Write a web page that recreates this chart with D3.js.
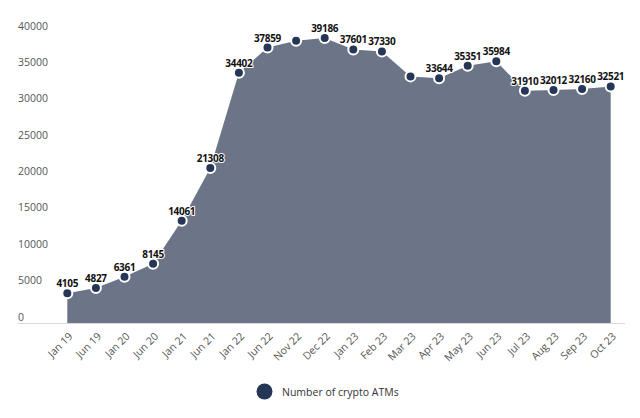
<!DOCTYPE html>
<html><head><meta charset="utf-8">
<script src="https://cdn.jsdelivr.net/npm/d3@7"></script>
<style>body{margin:0;background:#fff}svg{display:block}</style>
</head><body><svg id="c" width="640" height="418"></svg>
<script>
const categories = ["Jan 19","Jun 19","Jan 20","Jun 20","Jan 21","Jun 21","Jan 22","Jun 22","Nov 22","Dec 22","Jan 23","Feb 23","Mar 23","Apr 23","May 23","Jun 23","Jul 23","Aug 23","Sep 23","Oct 23"];
const values = [4105,4827,6361,8145,14061,21308,34402,37859,38800,39186,37601,37330,33900,33644,35351,35984,31910,32012,32160,32521];
const hiddenLabels = ["Nov 22","Mar 23"];
const yTicks = [0,5000,10000,15000,20000,25000,30000,35000,40000];
const seriesName = "Number of crypto ATMs";

const svg = d3.select("#c");
const font = "'Open Sans', sans-serif";
const x = d3.scalePoint().domain(categories).range([67.3, 610.7]);
const y = d3.scaleLinear().domain([0,40000]).range([323, 32]);
const data = categories.map((c,i)=>({c, v: values[i]}));

// area
svg.append("path").datum(data)
  .attr("d", d3.area().x(d=>x(d.c)).y0(y(0)).y1(d=>y(d.v)))
  .attr("fill", "#6c7487");

// axis line
svg.append("line").attr("x1",18).attr("x2",625).attr("y1",y(0)+0.5).attr("y2",y(0)+0.5)
  .attr("stroke","#d5d9e0").attr("stroke-width",1);

// y labels
svg.append("g").selectAll("text").data(yTicks).join("text")
  .attr("x",18).attr("y",d=>y(d)-2.5)
  .attr("font-family",font).attr("font-size","10.5px").attr("fill","#555")
  .text(d=>d);

// x labels
svg.append("g").selectAll("text").data(categories).join("text")
  .attr("transform",d=>`translate(${x(d)+4},${335}) rotate(-45)`)
  .attr("text-anchor","end").attr("dominant-baseline","middle")
  .attr("font-family",font).attr("font-size","10.5px").attr("fill","#555")
  .text(d=>d);

// markers
svg.append("g").selectAll("circle").data(data).join("circle")
  .attr("cx",d=>x(d.c)).attr("cy",d=>y(d.v)).attr("r",5)
  .attr("fill","#263656").attr("stroke","#fff").attr("stroke-width",2);

// data labels
svg.append("g").selectAll("text").data(data.filter(d=>!hiddenLabels.includes(d.c))).join("text")
  .attr("x",d=>x(d.c)).attr("y",d=>y(d.v)-6)
  .attr("text-anchor","middle")
  .attr("font-family",font).attr("font-size","10px").attr("font-weight","bold")
  .attr("letter-spacing","-0.3px")
  .attr("fill","#111").attr("stroke","#fff").attr("stroke-width",2).attr("paint-order","stroke")
  .attr("stroke-linejoin","round")
  .text(d=>d.v);

// legend
svg.append("circle").attr("cx",264.5).attr("cy",391.5).attr("r",8).attr("fill","#263656");
svg.append("text").attr("x",282).attr("y",395.5)
  .attr("font-family",font).attr("font-size","10.5px").attr("fill","#333").text(seriesName);
</script></body></html>
